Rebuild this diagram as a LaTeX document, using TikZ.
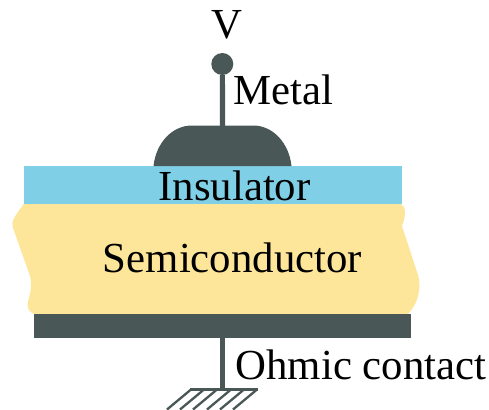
\documentclass[tikz,border=0pt]{standalone}
\usepackage{fontspec}
\setmainfont{Liberation Serif}
\definecolor{darkslate}{HTML}{4A5757}
\definecolor{insblue}{HTML}{7FD0E6}
\definecolor{semiyellow}{HTML}{FDE699}
\tikzset{lbl/.style={inner sep=0pt,anchor=base,font=\fontsize{42.8}{46}\selectfont,text=black},
 wire/.style={draw=darkslate,line width=5.2pt},
 hatch/.style={draw=darkslate,line width=2.3pt}}
\begin{document}
\begin{tikzpicture}[x=1pt,y=-1pt]
\useasboundingbox (0,0) rectangle (489,409);
\fill[insblue] (24,166) rectangle (402,204);
\fill[semiyellow] (24,204) -- (401,204) .. controls (406,206) and (406,216) .. (402,226)
 -- (418,275) .. controls (421,286) and (420,302) .. (407,315)
 -- (40,315) .. controls (30,315) and (25,308) .. (29,298)
 .. controls (31,290) and (32,284) .. (30,276) -- (13,228) .. controls (11,222) and (13,218) .. (24,204) -- cycle;
\fill[darkslate] (34,314) rectangle (411,338);
\fill[darkslate] (153.5,166) .. controls (156,143) and (172,125.5) .. (192,125.5) -- (253,125.5)
 .. controls (273,125.5) and (289,143) .. (291.5,166) -- cycle;
\node[circle,fill=darkslate,minimum size=22pt,inner sep=0pt] (pin) at (222.3,64) {};
\coordinate (gate) at (222.6,126);
\coordinate (back) at (222.6,338);
\coordinate (gnd) at (222.6,389.5);
\draw[wire] (pin) -- (gate);
\draw[wire] (back) -- (gnd);
\draw[hatch] (190,389.5) -- (258,389.5);
\foreach \x in {191,204,217,231,244,257}{\draw[hatch] (\x,389.5) -- ++(-24,20);}
\node[lbl] (v) at (227,38.5) {V};
\node[lbl] (metal) at (283,105) {Metal};
\node[lbl] (ins) at (234.5,200) {Insulator};
\node[lbl] (semi) at (232.5,272) {Semiconductor};
\node[lbl] (ohm) at (361,379) {Ohmic contact};
\end{tikzpicture}
\end{document}
